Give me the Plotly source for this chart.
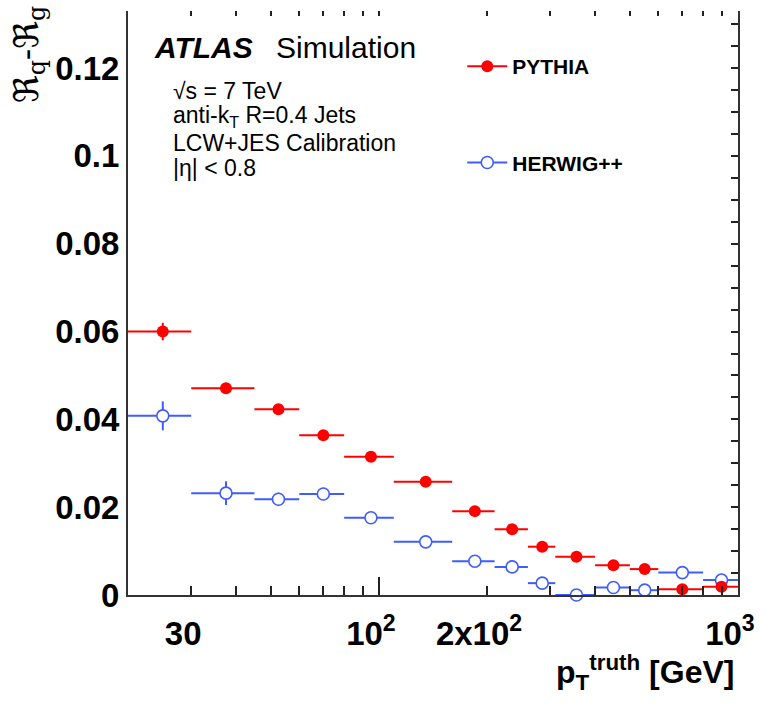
import math
import plotly.graph_objects as go

# ---------------- data ----------------
bin_low = [20, 30, 45, 60, 80, 110, 160, 210, 260, 310, 400, 500, 600, 800]
bin_high = [30, 45, 60, 80, 110, 160, 210, 260, 310, 400, 500, 600, 800, 1000]
bin_center = [25, 37.5, 52.5, 70, 95, 135, 185, 235, 285, 355, 450, 550, 700, 900]

pythia_y = [0.0600, 0.0471, 0.0423, 0.0364, 0.0315, 0.0258, 0.0191, 0.0150,
            0.0110, 0.0087, 0.0068, 0.0059, 0.0013, 0.0019]
pythia_err = [0.0020, 0.0012, 0.0012, 0.0010, 0.0008, 0.0007, 0.0006, 0.0005,
              0.0005, 0.0004, 0.0004, 0.0004, 0.0004, 0.0004]

herwig_y = [0.0408, 0.0232, 0.0218, 0.0230, 0.0176, 0.0121, 0.0077, 0.0064,
            0.0027, 0.0000, 0.0017, 0.0011, 0.0051, 0.0034]
herwig_err = [0.0033, 0.0027, 0.0015, 0.0014, 0.0008, 0.0007, 0.0006, 0.0005,
              0.0005, 0.0005, 0.0005, 0.0005, 0.0005, 0.0005]

x_tickvals = [30, 100, 200, 1000]
x_ticktext = ["30", "10<sup>2</sup>", "2x10<sup>2</sup>", "10<sup>3</sup>"]
x_minor = [20, 40, 50, 60, 70, 80, 90, 300, 400, 500, 600, 700, 800, 900]
x_long = [100, 1000]
y_tickvals = [0, 0.02, 0.04, 0.06, 0.08, 0.10, 0.12]
y_ticktext = ["0", "0.02", "0.04", "0.06", "0.08", "0.1", "0.12"]

RED = "#ff0000"
BLUE = "#3f5cff"
FONT = "Liberation Sans, Arial, Helvetica, sans-serif"

err_plus = [h - c for h, c in zip(bin_high, bin_center)]
err_minus = [c - l for c, l in zip(bin_center, bin_low)]

fig = go.Figure()

open_marker = dict(symbol="circle", size=12, color="white", line=dict(width=1.6, color=BLUE))

fig.add_trace(go.Scatter(
    x=bin_center, y=herwig_y, mode="markers", showlegend=False,
    marker=open_marker,
    error_x=dict(type="data", symmetric=False, array=err_plus, arrayminus=err_minus,
                 width=0, thickness=2, color=BLUE),
    error_y=dict(type="data", array=herwig_err, width=0, thickness=2, color=BLUE),
    cliponaxis=False,
))
fig.add_trace(go.Scatter(
    x=bin_center, y=pythia_y, mode="markers", showlegend=False,
    marker=dict(symbol="circle", size=12, color=RED),
    error_x=dict(type="data", symmetric=False, array=err_plus, arrayminus=err_minus,
                 width=0, thickness=2, color=RED),
    error_y=dict(type="data", array=pythia_err, width=0, thickness=2, color=RED),
    cliponaxis=False,
))

# legend entries
fig.add_trace(go.Scatter(
    x=[None], y=[None], mode="lines+markers", name="PYTHIA", legendgroup="p",
    marker=dict(symbol="circle", size=12, color=RED), line=dict(color=RED, width=2),
))
fig.add_trace(go.Scatter(
    x=[None], y=[None], mode="lines+markers", name="HERWIG++", legendgroup="h",
    marker=open_marker, line=dict(color=BLUE, width=2),
))
# dummy traces for helper axes
fig.add_trace(go.Scatter(x=[None], y=[None], xaxis="x2", yaxis="y2", showlegend=False,
                         hoverinfo="skip"))
fig.add_trace(go.Scatter(x=[None], y=[None], xaxis="x3", yaxis="y2", showlegend=False,
                         hoverinfo="skip"))

xr = [math.log10(20), math.log10(1000.5)]
yr = [0, 0.133]

fig.update_layout(
    width=766, height=704,
    margin=dict(l=128, r=24, t=11, b=109),
    paper_bgcolor="white", plot_bgcolor="white",
    font=dict(family=FONT, color="black"),
    xaxis=dict(
        type="log", range=xr, tickvals=x_tickvals, ticktext=x_ticktext,
        ticks="inside", ticklen=9, tickwidth=2, tickcolor="#222",
        minor=dict(tickvals=x_minor, ticks="inside", ticklen=9, tickwidth=2, tickcolor="#222"),
        showline=True, linewidth=2, linecolor="#333", showgrid=False, zeroline=False,
        tickfont=dict(size=33, family=FONT, weight="bold"), ticklabelstandoff=8,
        ticklabelshift=-8, ticklabeloverflow="allow",
    ),
    xaxis2=dict(
        type="log", range=xr, overlaying="x", anchor="y", side="bottom",
        tickvals=x_long, ticks="inside", ticklen=18, tickwidth=2, tickcolor="#222",
        showticklabels=False, showgrid=False, zeroline=False, showline=False,
    ),
    xaxis3=dict(
        type="log", range=xr, overlaying="x", anchor="y", side="top",
        tickvals=x_minor + x_tickvals, ticks="inside", ticklen=5, tickwidth=2, tickcolor="#222",
        showticklabels=False, showgrid=False, zeroline=False, showline=False,
    ),
    yaxis=dict(
        range=yr, tickvals=y_tickvals, ticktext=y_ticktext, ticks="",
        showline=True, linewidth=2, linecolor="#333", showgrid=False, zeroline=False,
        tickfont=dict(size=33, family=FONT, weight="bold"),
    ),
    yaxis2=dict(
        range=yr, overlaying="y", anchor="x", side="right", dtick=0.005, tick0=0,
        ticks="inside", ticklen=7, tickwidth=2, tickcolor="#222",
        showticklabels=False, showgrid=False, zeroline=False,
        showline=True, linewidth=2, linecolor="#333",
    ),
    legend=dict(
        x=0.548, y=0.94, xanchor="left", yanchor="top",
        font=dict(size=21, family=FONT, weight="bold"), tracegroupgap=66,
        bgcolor="rgba(0,0,0,0)", itemwidth=40,
    ),
    showlegend=True,
)

ann = [
    dict(text="<b><i>ATLAS</i></b>", x=0.040, y=0.938, size=30),
    dict(text="Simulation", x=0.240, y=0.938, size=30),
    dict(text="√s = 7 TeV", x=0.071, y=0.863, size=23),
    dict(text="anti-k<sub>T</sub> R=0.4 Jets", x=0.071, y=0.819, size=23),
    dict(text="LCW+JES Calibration", x=0.071, y=0.774, size=23),
    dict(text="|η| &lt; 0.8", x=0.071, y=0.731, size=23),
]
for a in ann:
    fig.add_annotation(text=a["text"], x=a["x"], y=a["y"], xref="paper", yref="paper",
                       xanchor="left", yanchor="middle", showarrow=False,
                       font=dict(size=a["size"], family=FONT, color="black"))

fig.add_annotation(text="<b>p<sub>T</sub><sup>truth</sup> [GeV]</b>", x=0.997, y=-0.132,
                   xref="paper", yref="paper", xanchor="right", yanchor="middle",
                   showarrow=False, font=dict(size=32, family=FONT, color="black"))
fig.add_annotation(text="ℜ<sub>q</sub>-ℜ<sub>g</sub>", x=-0.163, y=1.012,
                   xref="paper", yref="paper", xanchor="center", yanchor="top",
                   textangle=-90, showarrow=False,
                   font=dict(size=34, family="DejaVu Serif, DejaVu Sans, serif", color="black"))

fig.write_html("out.html")
